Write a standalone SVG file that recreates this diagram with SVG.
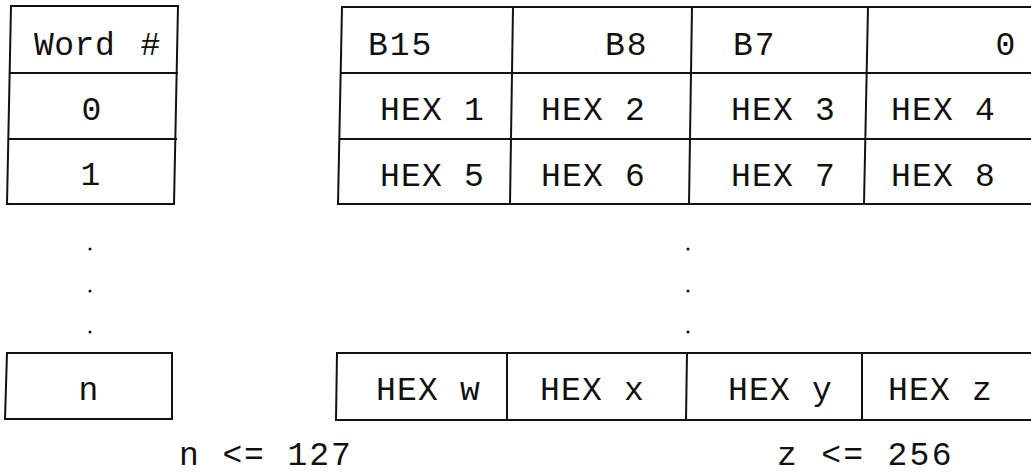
<svg xmlns="http://www.w3.org/2000/svg" width="1031" height="475" viewBox="0 0 1031 475">
<style>
  .ln { stroke: #111; stroke-width: 2; fill: none; stroke-linecap: square; }
  .t { font-family: "Liberation Mono", "DejaVu Sans Mono", monospace; font-size: 33px; fill: #111; letter-spacing: 1.2px; }
  .c { text-anchor: middle; }
  .dot { fill: #111; }
</style>
<rect width="1031" height="475" fill="#fff"/>

<g id="word-table">
  <polyline class="ln" points="11,6 178,6 174,204 7,204 11,6"/>
  <line class="ln" x1="10" y1="73" x2="177" y2="73"/>
  <line class="ln" x1="9" y1="139" x2="176" y2="139"/>
  <text class="t" x="34" y="55" style="letter-spacing:0.5px;word-spacing:5px">Word #</text>
  <text class="t c" x="92" y="120">0</text>
  <text class="t c" x="91" y="185">1</text>
</g>

<g id="data-table">
  <polyline class="ln" points="1031,7 342,7 338,204 1031,204"/>
  <line class="ln" x1="341" y1="73" x2="1031" y2="73"/>
  <line class="ln" x1="340" y1="139" x2="1031" y2="139"/>
  <line class="ln" x1="513" y1="7" x2="510" y2="204"/>
  <line class="ln" x1="692" y1="7" x2="689" y2="204"/>
  <line class="ln" x1="868" y1="7" x2="864" y2="204"/>
  <text class="t" x="368" y="55" style="letter-spacing:2px">B15</text>
  <text class="t" x="605" y="55" style="letter-spacing:2px">B8</text>
  <text class="t" x="733" y="55" style="letter-spacing:2px">B7</text>
  <text class="t c" x="1006" y="55">0</text>
  <text class="t" x="380" y="120">HEX 1</text>
  <text class="t" x="541" y="120">HEX 2</text>
  <text class="t" x="731" y="120">HEX 3</text>
  <text class="t" x="891" y="120">HEX 4</text>
  <text class="t" x="380" y="186">HEX 5</text>
  <text class="t" x="541" y="186">HEX 6</text>
  <text class="t" x="731" y="186">HEX 7</text>
  <text class="t" x="891" y="186">HEX 8</text>
</g>

<g id="ellipsis">
  <circle class="dot" cx="90" cy="249" r="1.5"/>
  <circle class="dot" cx="90" cy="291" r="1.5"/>
  <circle class="dot" cx="90" cy="332" r="1.5"/>
  <circle class="dot" cx="688" cy="249" r="1.5"/>
  <circle class="dot" cx="688" cy="291" r="1.5"/>
  <circle class="dot" cx="688" cy="332" r="1.5"/>
</g>

<g id="word-n">
  <polyline class="ln" points="7,353 172,353 172,419 5,419 7,353"/>
  <text class="t c" x="89" y="400">n</text>
</g>

<g id="data-row-n">
  <polyline class="ln" points="1031,353 337,353 336,420 1031,420"/>
  <line class="ln" x1="507" y1="353" x2="507" y2="420"/>
  <line class="ln" x1="687" y1="353" x2="686" y2="420"/>
  <line class="ln" x1="862" y1="353" x2="862" y2="420"/>
  <text class="t" x="376" y="400">HEX w</text>
  <text class="t" x="540" y="400">HEX x</text>
  <text class="t" x="728" y="400">HEX y</text>
  <text class="t" x="888" y="400">HEX z</text>
</g>

<g id="notes">
  <text class="t" x="179" y="465" style="letter-spacing:1.9px">n &lt;= 127</text>
  <text class="t" x="777" y="465" style="letter-spacing:2.3px">z &lt;= 256</text>
</g>
</svg>
